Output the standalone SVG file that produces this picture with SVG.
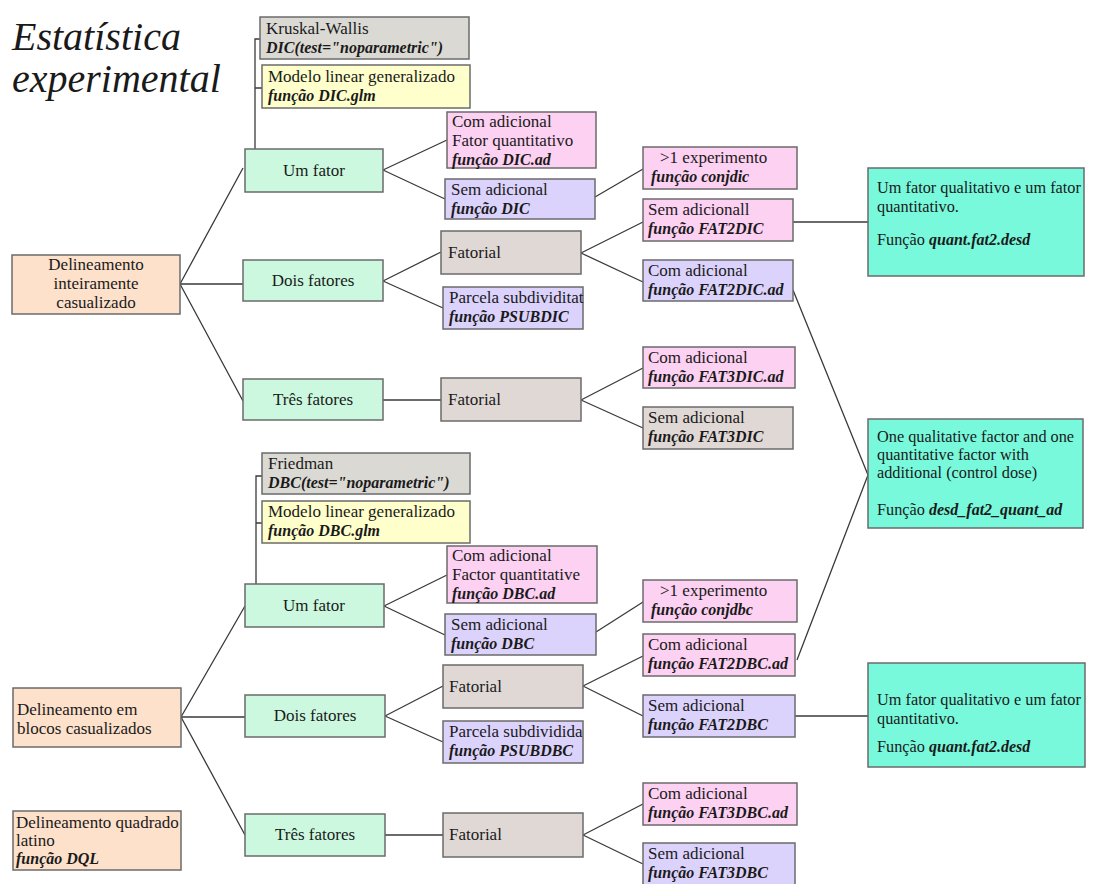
<svg xmlns="http://www.w3.org/2000/svg" width="1113" height="884" viewBox="0 0 1113 884">
<style>
text{font-family:"Liberation Serif","Times New Roman",serif;font-size:17px;fill:#1a1a1a}
.b{font-weight:bold;font-style:italic;font-size:16px}
.c{text-anchor:middle}
.t{font-style:italic;font-size:40px}
.q{font-size:16.3px}
rect{stroke:#6b6b6b;stroke-width:1.5}
.peach{fill:#fde1cb}.mint{fill:#cbf8df}.pink{fill:#fdd1f2}.lav{fill:#dcd3fc}
.taupe{fill:#e0d8d5}.grey{fill:#dad9d4}.yel{fill:#ffffcc}.teal{fill:#78f9dc}
#connectors path{fill:none;stroke:#3a3a3a;stroke-width:1.3}
</style>
<rect width="1113" height="884" fill="#ffffff" style="stroke:none"/>
<g id="title">
<text class="t" x="12" y="50">Estatística</text>
<text class="t" x="12" y="92">experimental</text>
</g>
<g id="connectors">
<path d="M261 39H255V149M255 88H262"/>
<path d="M180 284L243 168M180 284H243M180 284L243 401"/>
<path d="M383 170L447 140M383 170L445 199"/>
<path d="M595 197L643 169"/>
<path d="M383 281L441 252M383 281L443 308"/>
<path d="M581 253L643 222M581 253L643 282"/>
<path d="M793 222H868"/>
<path d="M793 290L868 475L797 660"/>
<path d="M383 400H441"/>
<path d="M581 400L643 368M581 400L643 428"/>
<path d="M262 476H256V584M256 523H262"/>
<path d="M181 717L245 606M181 717H245M181 717L245 835"/>
<path d="M384 606L447 575M384 606L445 635"/>
<path d="M596 632L643 602"/>
<path d="M385 716L443 686M385 716L443 742"/>
<path d="M583 686L643 656M583 686L643 716"/>
<path d="M795 716H868"/>
<path d="M385 835H443"/>
<path d="M583 835L643 804M583 835L643 864"/>
</g>
<g id="kruskal"><rect class="grey" x="260" y="17" width="209" height="42"/><text x="266" y="34">Kruskal-Wallis</text><text class="b" x="266" y="53">DIC(test="noparametric")</text></g>
<g id="glm-dic"><rect class="yel" x="262" y="65" width="208" height="43"/><text x="268" y="82">Modelo linear generalizado</text><text class="b" x="268" y="101">função DIC.glm</text></g>
<g id="um-fator-dic"><rect class="mint" x="245" y="149" width="138" height="43"/><text class="c" x="314" y="176">Um fator</text></g>
<g id="dic-ad"><rect class="pink" x="447" y="112" width="149" height="56"/><text x="452" y="127">Com adicional</text><text x="452" y="146">Fator quantitativo</text><text class="b" x="452" y="165">função DIC.ad</text></g>
<g id="dic-sem"><rect class="lav" x="445" y="179" width="150" height="40"/><text x="451" y="195">Sem adicional</text><text class="b" x="451" y="214">função DIC</text></g>
<g id="conjdic"><rect class="pink" x="643" y="147" width="154" height="42"/><text x="660" y="163">&gt;1 experimento</text><text class="b" x="651" y="182">função conjdic</text></g>
<g id="fat2dic"><rect class="pink" x="643" y="199" width="150" height="42"/><text x="648" y="215">Sem adicionall</text><text class="b" x="648" y="234">função FAT2DIC</text></g>
<g id="fat2dic-ad"><rect class="lav" x="643" y="260" width="150" height="41"/><text x="648" y="276">Com adicional</text><text class="b" x="648" y="295">função FAT2DIC.ad</text></g>
<g id="fatorial-dic2"><rect class="taupe" x="441" y="231" width="140" height="43"/><text x="448" y="258">Fatorial</text></g>
<g id="psubdic"><rect class="lav" x="443" y="287" width="140" height="42"/><text x="449" y="303">Parcela subdividitat</text><text class="b" x="449" y="322">função PSUBDIC</text></g>
<g id="dois-dic"><rect class="mint" x="243" y="260" width="140" height="41"/><text class="c" x="313" y="286">Dois fatores</text></g>
<g id="dic"><rect class="peach" x="12" y="255" width="168" height="59"/><text class="c" x="96" y="270">Delineamento</text><text class="c" x="96" y="289">inteiramente</text><text class="c" x="96" y="308">casualizado</text></g>
<g id="tres-dic"><rect class="mint" x="243" y="379" width="140" height="41"/><text class="c" x="313" y="405">Três fatores</text></g>
<g id="fatorial-dic3"><rect class="taupe" x="441" y="378" width="140" height="43"/><text x="448" y="405">Fatorial</text></g>
<g id="fat3dic-ad"><rect class="pink" x="643" y="347" width="152" height="41"/><text x="648" y="363">Com adicional</text><text class="b" x="648" y="382">função FAT3DIC.ad</text></g>
<g id="fat3dic"><rect class="taupe" x="643" y="407" width="150" height="42"/><text x="648" y="423">Sem adicional</text><text class="b" x="648" y="442">função FAT3DIC</text></g>
<g id="quant-dic"><rect class="teal" x="868" y="168" width="216" height="108"/><text class="q" x="877" y="193">Um fator qualitativo e um fator</text><text class="q" x="877" y="212">quantitativo.</text><text class="q" x="877" y="245">Função <tspan class="b">quant.fat2.desd</tspan></text></g>
<g id="quant-ad"><rect class="teal" x="868" y="419" width="215" height="109"/><text class="q" x="877" y="442">One qualitative factor and one</text><text class="q" x="877" y="460">quantitative factor with</text><text class="q" x="877" y="478">additional (control dose)</text><text class="q" x="877" y="515">Função <tspan class="b">desd_fat2_quant_ad</tspan></text></g>
<g id="friedman"><rect class="grey" x="262" y="453" width="208" height="41"/><text x="268" y="469">Friedman</text><text class="b" x="268" y="488">DBC(test="noparametric")</text></g>
<g id="glm-dbc"><rect class="yel" x="262" y="501" width="208" height="42"/><text x="268" y="517">Modelo linear generalizado</text><text class="b" x="268" y="536">função DBC.glm</text></g>
<g id="um-fator-dbc"><rect class="mint" x="245" y="584" width="139" height="43"/><text class="c" x="314" y="611">Um fator</text></g>
<g id="dbc-ad"><rect class="pink" x="447" y="546" width="150" height="57"/><text x="452" y="561">Com adicional</text><text x="452" y="580">Factor quantitative</text><text class="b" x="452" y="599">função DBC.ad</text></g>
<g id="dbc-sem"><rect class="lav" x="445" y="614" width="151" height="41"/><text x="451" y="630">Sem adicional</text><text class="b" x="451" y="649">função DBC</text></g>
<g id="conjdbc"><rect class="pink" x="643" y="580" width="154" height="42"/><text x="660" y="596">&gt;1 experimento</text><text class="b" x="651" y="615">função conjdbc</text></g>
<g id="fat2dbc-ad"><rect class="pink" x="643" y="634" width="152" height="42"/><text x="648" y="650">Com adicional</text><text class="b" x="648" y="669">função FAT2DBC.ad</text></g>
<g id="fatorial-dbc2"><rect class="taupe" x="443" y="665" width="140" height="43"/><text x="449" y="692">Fatorial</text></g>
<g id="fat2dbc"><rect class="lav" x="643" y="695" width="152" height="42"/><text x="648" y="711">Sem adicional</text><text class="b" x="648" y="730">função FAT2DBC</text></g>
<g id="psubdbc"><rect class="lav" x="443" y="721" width="140" height="42"/><text x="449" y="737">Parcela subdividida</text><text class="b" x="449" y="756">função PSUBDBC</text></g>
<g id="dois-dbc"><rect class="mint" x="245" y="695" width="140" height="42"/><text class="c" x="315" y="721">Dois fatores</text></g>
<g id="dbc"><rect class="peach" x="13" y="688" width="168" height="59"/><text x="17" y="715">Delineamento em</text><text x="17" y="734">blocos casualizados</text></g>
<g id="dql"><rect class="peach" x="13" y="811" width="168" height="59"/><text x="16" y="828">Delineamento quadrado</text><text x="16" y="846">latino</text><text class="b" x="16" y="864">função DQL</text></g>
<g id="tres-dbc"><rect class="mint" x="245" y="814" width="140" height="42"/><text class="c" x="315" y="840">Três fatores</text></g>
<g id="fatorial-dbc3"><rect class="taupe" x="443" y="813" width="140" height="44"/><text x="449" y="840">Fatorial</text></g>
<g id="fat3dbc-ad"><rect class="pink" x="643" y="783" width="154" height="42"/><text x="648" y="799">Com adicional</text><text class="b" x="648" y="818">função FAT3DBC.ad</text></g>
<g id="fat3dbc"><rect class="lav" x="643" y="843" width="152" height="45"/><text x="648" y="859">Sem adicional</text><text class="b" x="648" y="878">função FAT3DBC</text></g>
<g id="quant-dbc"><rect class="teal" x="868" y="663" width="217" height="104"/><text class="q" x="877" y="705">Um fator qualitativo e um fator</text><text class="q" x="877" y="724">quantitativo.</text><text class="q" x="877" y="752">Função <tspan class="b">quant.fat2.desd</tspan></text></g>
</svg>
